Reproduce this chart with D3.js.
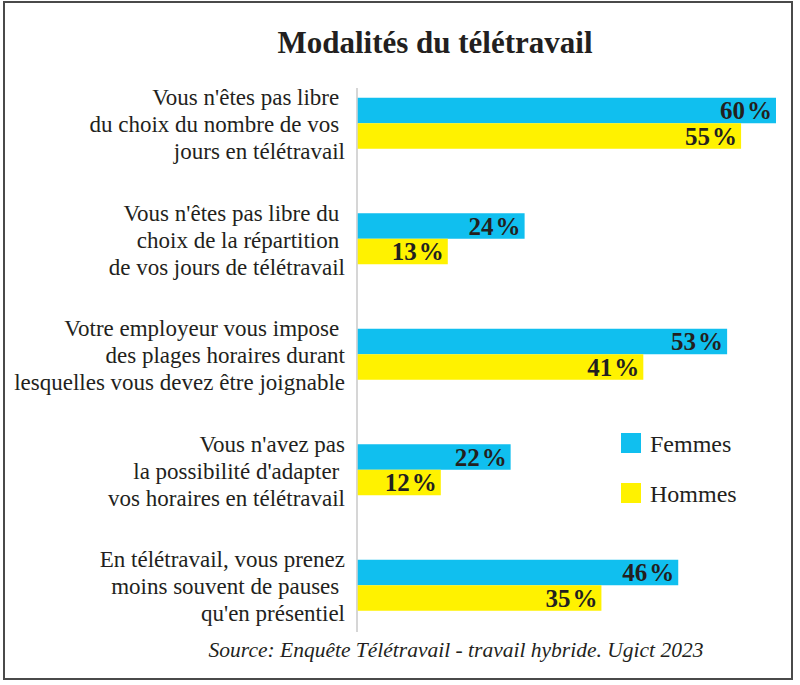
<!DOCTYPE html>
<html><head><meta charset="utf-8">
<script src="https://cdn.jsdelivr.net/npm/d3@7"></script>
<style>html,body{margin:0;padding:0;background:#fff;}</style>
</head><body>
<svg id="chart" width="800" height="685"></svg>
<script>
const categories = [
  ["Vous n'êtes pas libre ", "du choix du nombre de vos ", "jours en télétravail"],
  ["Vous n'êtes pas libre du ", "choix de la répartition ", "de vos jours de télétravail"],
  ["Votre employeur vous impose ", "des plages horaires durant", "lesquelles vous devez être joignable"],
  ["Vous n'avez pas", "la possibilité d'adapter ", "vos horaires en télétravail"],
  ["En télétravail, vous prenez", "moins souvent de pauses ", "qu'en présentiel"]
];
const seriesNames = ["Femmes", "Hommes"];
const femmes = [60, 24, 53, 22, 46];
const hommes = [55, 13, 41, 12, 35];
const colors = ["#10BFEF", "#FFF200"];
const title = "Modalités du télétravail";
const source = "Source: Enquête Télétravail - travail hybride. Ugict 2023";

const svg = d3.select("#chart");
const ink = "#231F20";
const serif = "Liberation Serif, Times New Roman, serif";

svg.append("rect").attr("x",4).attr("y",2).attr("width",788).attr("height",677)
  .attr("fill","#fff").attr("stroke","#4a4a4a").attr("stroke-width",2);

svg.append("text").attr("x",435).attr("y",53).attr("text-anchor","middle")
  .style("font-family",serif).attr("font-weight","bold").attr("font-size",31)
  .attr("fill",ink).text(title);

const idx = d3.range(categories.length);
const y = d3.scaleBand().domain(idx).range([65.5, 643]).padding(0);
const yi = d3.scaleBand().domain(seriesNames).range([0, 51]);
const x = d3.scaleLinear().domain([0, 60]).range([357, 776]);
const off = (y.bandwidth() - 51) / 2;

svg.append("line").attr("x1",357).attr("x2",357).attr("y1",88).attr("y2",632)
  .attr("stroke","#c8c8c8").attr("stroke-width",1.5);

const data = [];
idx.forEach(i => {
  data.push({i, s: seriesNames[0], v: femmes[i]});
  data.push({i, s: seriesNames[1], v: hommes[i]});
});

svg.append("g").selectAll("rect").data(data).join("rect")
  .attr("x", x(0)+0.75)
  .attr("y", d => y(d.i) + off + yi(d.s))
  .attr("width", d => x(d.v) - x(0) - 0.75)
  .attr("height", yi.bandwidth())
  .attr("fill", d => colors[seriesNames.indexOf(d.s)]);

const lbl = svg.append("g").selectAll("text").data(data).join("text")
  .attr("x", d => x(d.v) - 4)
  .attr("y", d => y(d.i) + off + yi(d.s) + yi.bandwidth()/2 + 8.5)
  .attr("text-anchor","end")
  .style("font-family",serif).attr("font-weight","bold").attr("font-size",25)
  .attr("fill",ink);
lbl.append("tspan").text(d => d.v);
lbl.append("tspan").attr("dx",2).text("%");

const cg = svg.append("g");
idx.forEach(i => {
  const cy = y(i) + y.bandwidth()/2;
  categories[i].forEach((line, k) => {
    cg.append("text").attr("x",345).attr("y", cy + 9 + (k-1)*27)
      .attr("text-anchor","end").style("font-family",serif).style("white-space","pre")
      .attr("font-size",23).attr("fill",ink).text(line);
  });
});

const lg = svg.append("g");
seriesNames.forEach((s, k) => {
  lg.append("rect").attr("x",621).attr("y",433 + k*50).attr("width",20).attr("height",20)
    .attr("fill",colors[k]);
  lg.append("text").attr("x",650).attr("y",452 + k*50).style("font-family",serif)
    .attr("font-size",24).attr("fill",ink).text(s);
});

svg.append("text").attr("x",456).attr("y",657).attr("text-anchor","middle")
  .style("font-family",serif).attr("font-style","italic").attr("font-size",21.5)
  .attr("fill",ink).text(source);
</script>
</body></html>
